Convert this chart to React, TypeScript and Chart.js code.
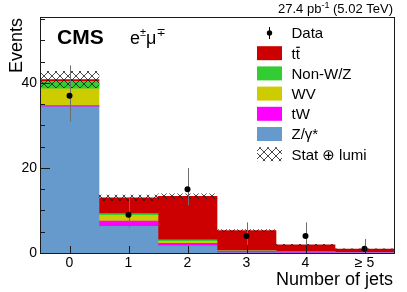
import React, { useEffect, useRef } from "react";
import { Chart, registerables } from "chart.js";

Chart.register(...registerables);

// ---- data ----
const categories = ["0", "1", "2", "3", "4", "≥ 5"];
const zgamma = [34.4, 6.3, 1.7, 0.1, 0.05, 0.02];
const tW = [0.25, 1.2, 0.55, 0.35, 0.15, 0.06];
const wv = [3.95, 1.35, 0.47, 0.05, 0.03, 0.01];
const nonWZ = [1.8, 0.4, 0.4, 0.05, 0.02, 0.01];
const ttbar = [0.4, 3.75, 10.2, 4.75, 1.7, 0.85];
const dataValues = [37, 9, 15, 4, 4, 1];
const dataLow = [30.9, 6.0, 11.2, 1.9, 1.9, 0.17];
const dataHigh = [44.1, 13.1, 20.0, 7.2, 7.2, 3.3];
const uncLow = [38.9, 12.3, 12.8, 5.1, 1.8, 0.85];
const uncHigh = [42.7, 13.6, 13.9, 5.5, 2.05, 1.0];
const yMax = 55.5;
const yStep = 20;
const yMinorStep = 5;

const COLORS = {
  tt: "#cc0000",
  nonwz: "#33cc33",
  wv: "#cccc00",
  tw: "#ff00ff",
  z: "#6699cc",
};

const FONT = "'Liberation Sans', Arial, 'DejaVu Sans', sans-serif";
const DATA_INDEX = 6;

function makeHatch(): CanvasPattern | string {
  const c = document.createElement("canvas");
  c.width = 8;
  c.height = 8;
  const g = c.getContext("2d");
  if (!g) return "rgba(0,0,0,0.3)";
  g.strokeStyle = "#1a1a1a";
  g.lineWidth = 0.8;
  g.beginPath();
  g.moveTo(0, 0);
  g.lineTo(8, 8);
  g.moveTo(8, 0);
  g.lineTo(0, 8);
  g.stroke();
  return g.createPattern(c, "repeat") || "rgba(0,0,0,0.3)";
}

export default function App() {
  const ref = useRef<HTMLCanvasElement | null>(null);

  useEffect(() => {
    const canvas = ref.current;
    if (!canvas) return;
    const hatch = makeHatch();

    const decor = {
      id: "cmsDecor",
      beforeDatasetDraw(chart: any, args: any) {
        if (args.index !== DATA_INDEX) return;
        const ctx = chart.ctx;
        const x = chart.scales.x;
        const y = chart.scales.y;
        ctx.save();
        ctx.strokeStyle = "#6e6e6e";
        ctx.lineWidth = 1;
        categories.forEach((_, i) => {
          const px = Math.round(x.getPixelForValue(i)) + 0.5;
          ctx.beginPath();
          ctx.moveTo(px, y.getPixelForValue(dataLow[i]));
          ctx.lineTo(px, y.getPixelForValue(dataHigh[i]));
          ctx.stroke();
        });
        ctx.restore();
      },
      afterDraw(chart: any) {
        const ctx = chart.ctx;
        const { left, right, top, bottom } = chart.chartArea;
        const x = chart.scales.x;
        const y = chart.scales.y;
        ctx.save();
        // frame
        ctx.strokeStyle = "#1a1a1a";
        ctx.lineWidth = 1;
        ctx.strokeRect(left + 0.5, top + 0.5, right - left, bottom - top);
        // y ticks (inward)
        ctx.beginPath();
        for (let v = 0; v <= yMax; v += yMinorStep) {
          const py = Math.round(y.getPixelForValue(v)) + 0.5;
          const len = v % yStep === 0 ? 10 : 5;
          ctx.moveTo(left, py);
          ctx.lineTo(left + len, py);
        }
        // x ticks (inward)
        categories.forEach((_, i) => {
          const px = Math.round(x.getPixelForValue(i)) + 0.5;
          ctx.moveTo(px, bottom);
          ctx.lineTo(px, bottom - 7);
        });
        ctx.stroke();

        ctx.fillStyle = "#000";
        ctx.textAlign = "left";
        ctx.textBaseline = "alphabetic";
        // CMS
        ctx.font = `bold 21px ${FONT}`;
        ctx.fillText("CMS", 57, 43.5);
        // e± mu∓
        let xx = 130;
        ctx.font = `18px ${FONT}`;
        ctx.fillText("e", xx, 43.5);
        xx += ctx.measureText("e").width;
        ctx.font = `11px ${FONT}`;
        ctx.fillText("±", xx, 35.5);
        xx += ctx.measureText("±").width;
        ctx.font = `18px ${FONT}`;
        ctx.fillText("μ", xx, 43.5);
        xx += ctx.measureText("μ").width;
        ctx.font = `11px ${FONT}`;
        ctx.fillText("∓", xx, 35.5);

        // lumi label
        const p1 = "27.4 pb";
        const p2 = "-1";
        const p3 = " (5.02 TeV)";
        ctx.font = `13px ${FONT}`;
        const w1 = ctx.measureText(p1).width;
        const w3 = ctx.measureText(p3).width;
        ctx.font = `9px ${FONT}`;
        const w2 = ctx.measureText(p2).width;
        let lx = 393 - (w1 + w2 + w3);
        ctx.font = `13px ${FONT}`;
        ctx.fillText(p1, lx, 13);
        lx += w1;
        ctx.font = `9px ${FONT}`;
        ctx.fillText(p2, lx, 8);
        lx += w2;
        ctx.font = `13px ${FONT}`;
        ctx.fillText(p3, lx, 13);

        // axis titles
        ctx.font = `18px ${FONT}`;
        ctx.textAlign = "right";
        ctx.fillText("Number of jets", 393, 284.5);
        ctx.save();
        ctx.translate(21.5, 18);
        ctx.rotate(-Math.PI / 2);
        ctx.fillText("Events", 0, 0);
        ctx.restore();

        // legend
        ctx.textAlign = "left";
        ctx.font = `15px ${FONT}`;
        const bx = 257;
        const tx = 291.5;
        const y0 = 33;
        const step = 20.2;
        // Data
        ctx.strokeStyle = "#000";
        ctx.beginPath();
        ctx.moveTo(269.5, y0 - 6);
        ctx.lineTo(269.5, y0 + 6);
        ctx.stroke();
        ctx.beginPath();
        ctx.arc(269.5, y0, 2.7, 0, Math.PI * 2);
        ctx.fill();
        ctx.fillText("Data", tx, y0 + 5.3);
        const boxes: [string | CanvasPattern, string][] = [
          [COLORS.tt, "tt"],
          [COLORS.nonwz, "Non-W/Z"],
          [COLORS.wv, "WV"],
          [COLORS.tw, "tW"],
          [COLORS.z, "Z/γ*"],
          [hatch, "Stat ⊕ lumi"],
        ];
        boxes.forEach(([col, label], k) => {
          const cy = y0 + step * (k + 1);
          ctx.fillStyle = col;
          ctx.fillRect(bx, cy - 7, 25, 14);
          ctx.fillStyle = "#000";
          ctx.fillText(label, tx, cy + 5.3);
          if (k === 0) {
            const tw = ctx.measureText("t").width;
            ctx.fillRect(tx + tw + 0.5, cy - 6.5, tw - 0.5, 1.2);
          }
        });
        ctx.restore();
      },
    };

    const common = {
      stack: "mc",
      barPercentage: 1,
      categoryPercentage: 1,
      borderWidth: 0,
      order: 2,
    };

    const chart = new Chart(canvas, {
      type: "bar",
      data: {
        labels: categories,
        datasets: [
          { ...common, label: "Z/γ*", data: zgamma, backgroundColor: COLORS.z },
          { ...common, label: "tW", data: tW, backgroundColor: COLORS.tw },
          { ...common, label: "WV", data: wv, backgroundColor: COLORS.wv },
          { ...common, label: "Non-W/Z", data: nonWZ, backgroundColor: COLORS.nonwz },
          { ...common, label: "tt", data: ttbar, backgroundColor: COLORS.tt },
          {
            label: "Stat ⊕ lumi",
            data: categories.map((_, i) => [uncLow[i], uncHigh[i]]),
            backgroundColor: hatch,
            borderWidth: 0,
            stack: "unc",
            grouped: false,
            barPercentage: 1,
            categoryPercentage: 1,
            order: 1,
          } as any,
          {
            type: "line",
            label: "Data",
            data: dataValues,
            stack: "data",
            showLine: false,
            pointRadius: 3,
            pointBackgroundColor: "#000",
            pointBorderColor: "#000",
            pointBorderWidth: 0,
            borderColor: "#000",
            order: 0,
          } as any,
        ],
      },
      options: {
        responsive: false,
        animation: false,
        devicePixelRatio: 1,
        events: [],
        layout: { padding: { top: 17, right: 13, left: 0, bottom: 0 } },
        plugins: { legend: { display: false }, tooltip: { enabled: false } },
        scales: {
          x: {
            type: "category",
            offset: true,
            grid: { display: false, drawTicks: false },
            border: { display: false },
            ticks: { color: "#000", font: { family: FONT, size: 14 }, padding: 2, maxRotation: 0 },
            afterFit: (s: any) => {
              s.height = 39;
            },
          },
          y: {
            type: "linear",
            stacked: true,
            min: 0,
            max: yMax,
            grid: { display: false, drawTicks: false },
            border: { display: false },
            ticks: {
              stepSize: yStep,
              includeBounds: false,
              color: "#000",
              font: { family: FONT, size: 14 },
              padding: 3,
            },
            afterFit: (s: any) => {
              s.width = 40;
            },
          },
        },
      } as any,
      plugins: [decor],
    });

    return () => chart.destroy();
  }, []);

  return (
    <div style={{ position: "fixed", left: 0, top: 0, width: 407, height: 292, background: "#fff" }}>
      <canvas ref={ref} width={407} height={292} style={{ display: "block", width: 407, height: 292 }} />
    </div>
  );
}
